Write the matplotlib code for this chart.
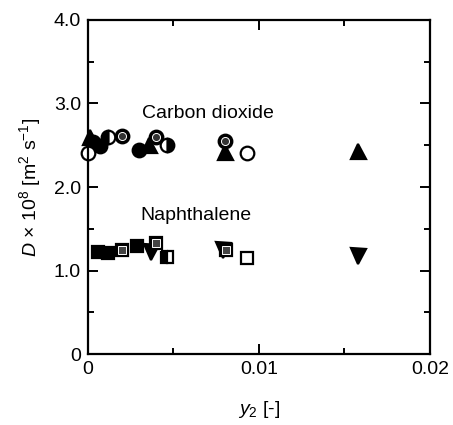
import numpy as np
import matplotlib
matplotlib.use("Agg")
import matplotlib.pyplot as plt
from matplotlib.ticker import MultipleLocator

plt.rcParams['font.family'] = ['Liberation Sans', 'DejaVu Sans']
plt.rcParams['mathtext.fontset'] = 'custom'
plt.rcParams['mathtext.rm'] = 'Liberation Sans'
plt.rcParams['mathtext.it'] = 'Liberation Sans:italic'

# Carbon dioxide
co2_tri_x = [0.0001, 0.0036, 0.0080, 0.0158]
co2_tri_d = [2.60, 2.50, 2.42, 2.43]
co2_open_x = [0.0000, 0.0093]
co2_open_d = [2.41, 2.41]
co2_fill_x = [0.0003, 0.0007, 0.0030]
co2_fill_d = [2.54, 2.49, 2.44]
co2_halfl_x = [0.0012]
co2_halfl_d = [2.60]
co2_halfr_x = [0.0046]
co2_halfr_d = [2.50]
co2_dot_x = [0.0020, 0.0040, 0.0080]
co2_dot_d = [2.61, 2.60, 2.55]

# Naphthalene
nap_fill_x = [0.0006, 0.0012, 0.0029]
nap_fill_d = [1.22, 1.21, 1.29]
nap_dot_x = [0.0020, 0.0040, 0.0081]
nap_dot_d = [1.25, 1.33, 1.24]
nap_tri_x = [0.0037, 0.0079, 0.0158]
nap_tri_d = [1.22, 1.24, 1.17]
nap_half_x = [0.0046]
nap_half_d = [1.16]
nap_open_x = [0.0093]
nap_open_d = [1.15]

fig = plt.figure(figsize=(4.53, 4.25), dpi=100)
ax = fig.add_axes([0.194, 0.167, 0.755, 0.786])

kw = dict(linestyle='none', markeredgecolor='black', markeredgewidth=1.6, clip_on=False)

# CO2 markers
ax.plot(co2_fill_x, co2_fill_d, 'o', ms=9.8, markerfacecolor='black', **kw)
ax.plot(co2_tri_x, co2_tri_d, '^', ms=10.8, markerfacecolor='black', **kw)
ax.plot(co2_open_x, co2_open_d, 'o', ms=9.8, markerfacecolor='white', **kw)
ax.plot(co2_halfl_x, co2_halfl_d, 'o', ms=9.8, fillstyle='left',
        markerfacecolor='black', markerfacecoloralt='white', **kw)
ax.plot(co2_halfr_x, co2_halfr_d, 'o', ms=9.8, fillstyle='right',
        markerfacecolor='black', markerfacecoloralt='white', **kw)
ax.plot(co2_dot_x, co2_dot_d, 'o', ms=9.8, markerfacecolor='black', **kw)
ax.plot(co2_dot_x, co2_dot_d, 'o', ms=5.8, markerfacecolor='#333333',
        markeredgecolor='white', markeredgewidth=0.7, linestyle='none', clip_on=False)

# Naphthalene markers
ax.plot(nap_fill_x, nap_fill_d, 's', ms=9.0, markerfacecolor='black', **kw)
ax.plot(nap_tri_x, nap_tri_d, 'v', ms=10.8, markerfacecolor='black', **kw)
ax.plot(nap_dot_x, nap_dot_d, 's', ms=9.0, markerfacecolor='black', **kw)
ax.plot(nap_dot_x, nap_dot_d, 's', ms=5.4, markerfacecolor='#444444',
        markeredgecolor='white', markeredgewidth=0.7, linestyle='none', clip_on=False)
ax.plot(nap_half_x, nap_half_d, 's', ms=9.0, fillstyle='left',
        markerfacecolor='black', markerfacecoloralt='white', **kw)
ax.plot(nap_open_x, nap_open_d, 's', ms=9.0, markerfacecolor='white', **kw)

ax.text(0.0070, 2.88, 'Carbon dioxide', fontsize=14, ha='center', va='center')
ax.text(0.0063, 1.66, 'Naphthalene', fontsize=14, ha='center', va='center')

ax.set_xlim(0, 0.02)
ax.set_ylim(0, 4.0)
ax.set_xticks([0, 0.01, 0.02])
ax.set_xticklabels(['0', '0.01', '0.02'])
ax.set_yticks([0, 1, 2, 3, 4])
ax.set_yticklabels(['0', '1.0', '2.0', '3.0', '4.0'])
ax.xaxis.set_minor_locator(MultipleLocator(0.005))
ax.yaxis.set_minor_locator(MultipleLocator(0.5))
ax.tick_params(which='both', direction='in', top=True, right=True, width=1.4,
               labelsize=14, pad=5)
ax.tick_params(which='major', length=7)
ax.tick_params(which='minor', length=4)
for s in ax.spines.values():
    s.set_linewidth(1.6)

ax.set_xlabel('$y_2$ [-]', fontsize=14, labelpad=15)
ax.set_ylabel('$D$ × 10$^8$ [m$^2$ s$^{-1}$]', fontsize=14, labelpad=8)

fig.savefig('out.png', dpi=100)
